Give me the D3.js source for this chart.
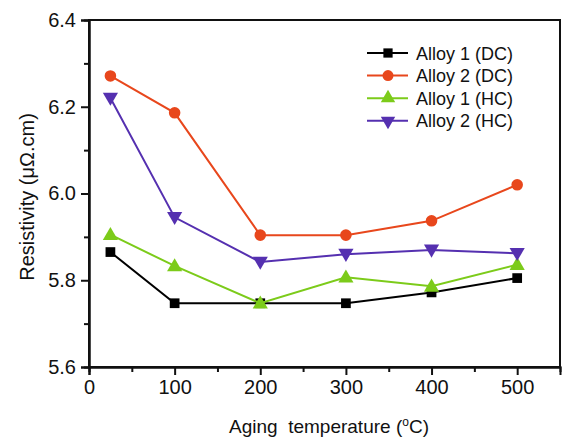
<!DOCTYPE html>
<html>
<head>
<meta charset="utf-8">
<script src="https://cdn.jsdelivr.net/npm/d3@7"></script>
<style>
  body { margin: 0; background: #fff; }
  svg text { font-family: "Liberation Sans", Arial, sans-serif; fill: #111; }
</style>
</head>
<body>
<div id="chart-area"></div>
<script>
// data
var temps = [25, 100, 200, 300, 400, 500];
var alloy1DC = [5.865, 5.747, 5.747, 5.747, 5.772, 5.805];
var alloy2DC = [6.271, 6.186, 5.904, 5.904, 5.937, 6.020];
var alloy1HC = [5.905, 5.833, 5.747, 5.807, 5.786, 5.836];
var alloy2HC = [6.220, 5.945, 5.842, 5.860, 5.870, 5.862];
var seriesNames = ["Alloy 1 (DC)", "Alloy 2 (DC)", "Alloy 1 (HC)", "Alloy 2 (HC)"];
var xTicks = [0, 100, 200, 300, 400, 500];
var yTicks = [5.6, 5.8, 6.0, 6.2, 6.4];

var series = [
    {name: seriesNames[0], values: alloy1DC, color: "#000000", shape: "square"},
    {name: seriesNames[1], values: alloy2DC, color: "#e8471c", shape: "circle"},
    {name: seriesNames[2], values: alloy1HC, color: "#7ccb1a", shape: "up"},
    {name: seriesNames[3], values: alloy2HC, color: "#5530b0", shape: "down"}
];

var margin = {top: 20, right: 2, bottom: 77, left: 89};
var width = 562 - margin.left - margin.right,
    height = 444 - margin.top - margin.bottom;

var svg = d3.select("#chart-area").append("svg")
    .attr("width", 562)
    .attr("height", 444)
    .append("g")
    .attr("transform", "translate(" + margin.left + "," + margin.top + ")");

//SCALES
var x = d3.scaleLinear().domain([0, 550]).range([0, width]);
var y = d3.scaleLinear().domain([5.6, 6.4]).range([height, 0]);

//frame
svg.append("rect")
    .attr("width", width)
    .attr("height", height)
    .attr("fill", "none")
    .attr("stroke", "#111")
    .attr("stroke-width", 2);

//AXES
svg.append("g")
    .attr("transform", "translate(0," + height + ")")
    .call(d3.axisBottom(x).tickValues(d3.range(50, 550, 100)).tickSize(5).tickFormat(""));
svg.append("g")
    .attr("transform", "translate(0," + height + ")")
    .call(d3.axisBottom(x).tickValues(xTicks).tickSize(8).tickPadding(5).tickFormat(d3.format("d")));

svg.append("g")
    .call(d3.axisLeft(y).tickValues([5.7, 5.9, 6.1, 6.3]).tickSize(5).tickFormat(""));
svg.append("g")
    .call(d3.axisLeft(y).tickValues(yTicks).tickSize(8).tickPadding(5).tickFormat(d3.format(".1f")));

svg.selectAll(".domain").attr("stroke", "#111").attr("stroke-width", 2);
svg.selectAll(".tick line").attr("stroke", "#111").attr("stroke-width", 2);
svg.selectAll(".tick text").style("font-size", "20px").attr("fill", "#111");

svg.append("text")
    .attr("x", 329 - margin.left)
    .attr("y", height + 66)
    .style("text-anchor", "middle")
    .style("font-size", "19px")
    .html("Aging&#160; temperature (<tspan dy='-7' font-size='12'>o</tspan><tspan dy='7'>C)</tspan>");

svg.append("text")
    .attr("transform", "rotate(-90)")
    .attr("x", -(197 - margin.top))
    .attr("y", -55)
    .style("text-anchor", "middle")
    .style("font-size", "20px")
    .text("Resistivity (\u03bc\u03a9.cm)");

//LINES
var line = d3.line()
    .x(function(d, i) { return x(temps[i]); })
    .y(function(d) { return y(d); });

function symbolFor(shape, size) {
    if (shape === "square") return d3.symbol().type(d3.symbolSquare).size(size * 0.9)();
    if (shape === "circle") return d3.symbol().type(d3.symbolCircle).size(size)();
    return d3.symbol().type(d3.symbolTriangle).size(size * 0.95)();
}

series.forEach(function(s) {
    svg.append("path")
        .attr("d", line(s.values))
        .attr("fill", "none")
        .attr("stroke", s.color)
        .attr("stroke-width", 2);

    svg.selectAll(".pt-" + s.shape)
        .data(s.values)
        .enter().append("path")
        .attr("class", "pt-" + s.shape)
        .attr("d", symbolFor(s.shape, 105))
        .attr("fill", s.color)
        .attr("transform", function(d, i) {
            var r = s.shape === "down" ? " rotate(180)" : "";
            var dy = s.shape === "up" ? 1 : (s.shape === "down" ? -1 : 0);
            return "translate(" + x(temps[i]) + "," + (y(d) + dy) + ")" + r;
        });
});

//LEGEND
var legend = svg.selectAll(".legend")
    .data(series)
    .enter().append("g")
    .attr("class", "legend")
    .attr("transform", function(d, i) { return "translate(" + (367 - margin.left) + "," + (53 - margin.top + i * 22.6) + ")"; });

legend.append("line")
    .attr("x1", 0).attr("x2", 41)
    .attr("stroke", function(d) { return d.color; })
    .attr("stroke-width", 2);

legend.append("path")
    .attr("d", function(d) { return symbolFor(d.shape, 95); })
    .attr("fill", function(d) { return d.color; })
    .attr("transform", function(d) { return "translate(21,0)" + (d.shape === "down" ? " rotate(180)" : ""); });

legend.append("text")
    .attr("x", 49)
    .attr("y", 6.5)
    .style("font-size", "18px")
    .text(function(d) { return d.name; });
</script>
</body>
</html>
